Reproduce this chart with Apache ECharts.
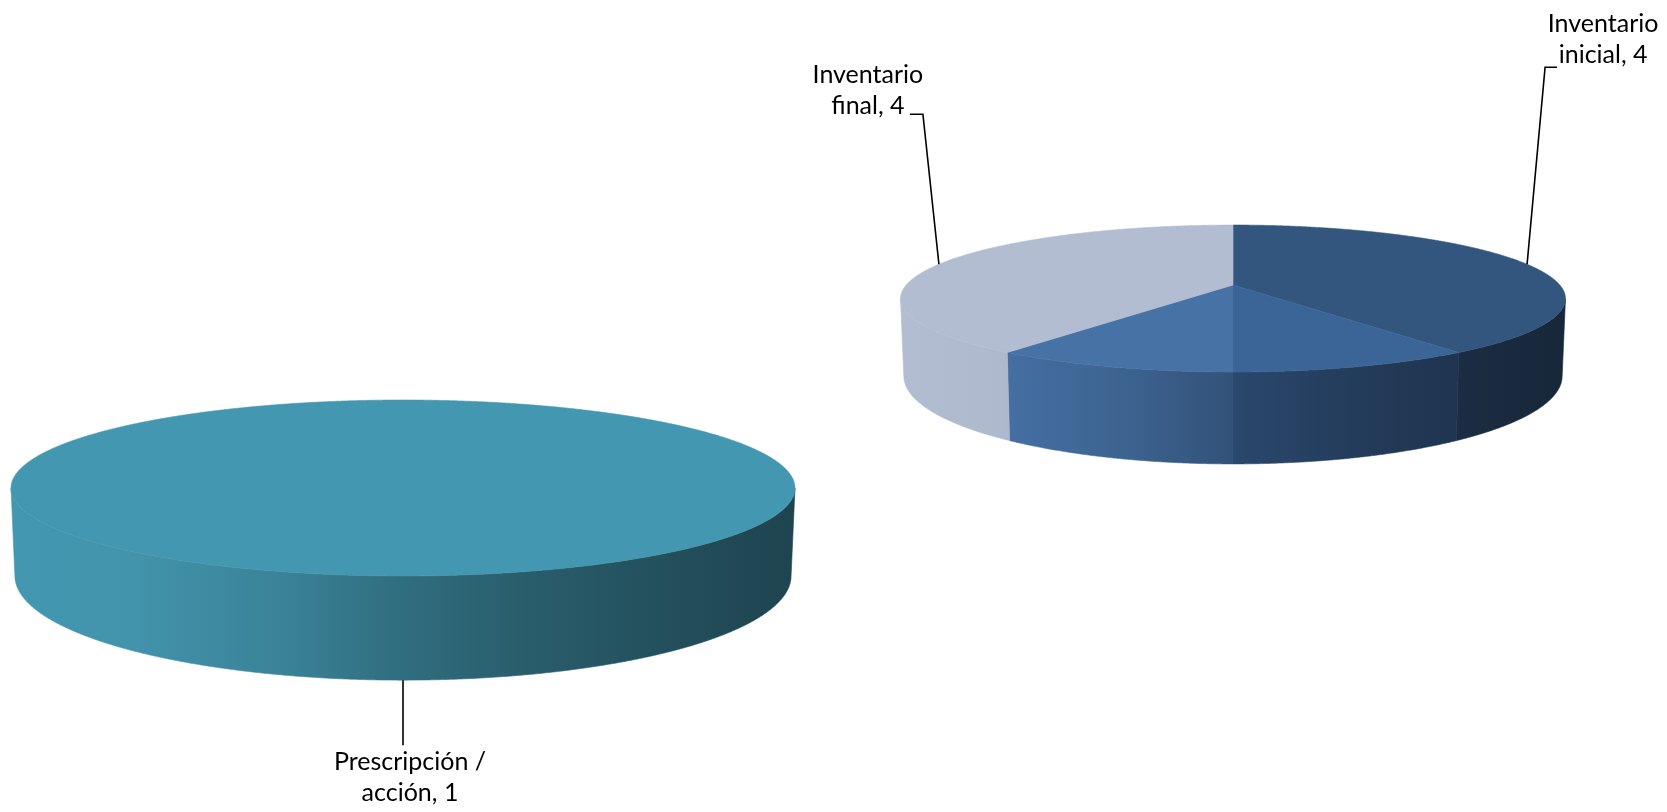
<!DOCTYPE html>
<html>
<head>
<meta charset="utf-8">
<script src="https://cdn.jsdelivr.net/npm/echarts@6/dist/echarts.min.js"></script>
<style>
html,body{margin:0;padding:0;background:#ffffff;}
#chart{width:1667px;height:812px;}
</style>
</head>
<body>
<div id="chart"></div>
<script>
// ---------------- DATA ----------------
const inventoryCategories = ['Inventario inicial', 'Otros', 'Inventario final'];
const inventoryValues = [4, 2, 4];
const prescriptionCategories = ['Prescripción / acción'];
const prescriptionValues = [1];
const inventoryLabelShown = [true, false, true];
const prescriptionLabelShown = [true];

// ---------------- STYLE / LAYOUT ----------------
const FONT = 'Lato';
const FONT_SIZE = 25;
const LINE_H = 31;

const pies = [
  {
    cats: inventoryCategories, vals: inventoryValues, shown: inventoryLabelShown,
    proj: {cx: 1233, cy: 285, rx: 326.8, a: 71, d: 75, k: 0.184},
    colors: [['#33567F', '#33567F'], ['#4672A6', '#3B6497'], ['#B3BDD1', '#B3BDD1']],
    labels: [
      {text: [76, -225], elbow: [18, -197], arm: 12, wrap: 12},
      null,
      {text: [-71, -174], elbow: [-16, -150], arm: -13, wrap: 12}
    ]
  },
  {
    cats: prescriptionCategories, vals: prescriptionValues, shown: prescriptionLabelShown,
    proj: {cx: 403, cy: 471.8, rx: 385.3, a: 85, d: 85, k: 0.184},
    colors: [['#4397B0', '#4397B0']],
    labels: [
      {text: [7, 97], elbow: [0, 65], arm: 0, wrap: 15}
    ]
  }
];

const sideF = [[0, 1], [0.15, 0.98], [0.35, 0.86], [0.5, 0.72], [0.65, 0.62], [0.8, 0.54], [1, 0.45]];

function shade(hex, f) {
  const n = parseInt(hex.slice(1), 16);
  const r = (n >> 16) & 255, g = (n >> 8) & 255, b = n & 255;
  return 'rgb(' + Math.round(r * f) + ',' + Math.round(g * f) + ',' + Math.round(b * f) + ')';
}

function wrapText(text, maxChars) {
  const words = text.split(' ');
  const lines = [];
  let cur = '';
  words.forEach(function (w) {
    if (!cur) cur = w;
    else if ((cur + ' ' + w).length <= maxChars) cur += ' ' + w;
    else { lines.push(cur); cur = w; }
  });
  if (cur) lines.push(cur);
  return lines.join('\n');
}

function sideGradient(P, L, R) {
  const half = P.rx * 1.0174;
  const stops = [];
  sideF.forEach(function (s) {
    if (s[0] < 0.5) stops.push({offset: s[0], color: shade(L, s[1])});
    else if (s[0] === 0.5) {
      stops.push({offset: 0.5, color: shade(L, s[1])});
      stops.push({offset: 0.5, color: shade(R, s[1])});
    } else stops.push({offset: s[0], color: shade(R, s[1])});
  });
  return {type: 'linear', x: P.cx - half, y: 0, x2: P.cx + half, y2: 0, global: true, colorStops: stops};
}

function topGradient(P, L, R) {
  const half = P.rx * 1.0174;
  return {type: 'linear', x: P.cx - half, y: 0, x2: P.cx + half, y2: 0, global: true,
    colorStops: [{offset: 0, color: L}, {offset: 0.5, color: L}, {offset: 0.5, color: R}, {offset: 1, color: R}]};
}

function buildSlices(vals) {
  const out = [];
  let acc = 0;
  vals.forEach(function (v, i) { out.push([acc, acc + v, i]); acc += v; });
  return out;
}

function makeRender(pie) {
  const total = pie.vals.reduce(function (s, v) { return s + v; }, 0);
  const P = pie.proj;
  return function (params, api) {
    const idx = params.dataIndex;
    const cs = params.coordSys;
    const start = api.value(0), end = api.value(1);
    function unit(v) {
      const p = api.coord([1, v]);
      return [(p[0] - cs.cx) / cs.r, (p[1] - cs.cy) / cs.r];
    }
    function proj(u, w, bottom) {
      const s = 1 / (1 - P.k * w);
      const sx = bottom ? 0.99 : 1;
      return [P.cx + P.rx * u * s * sx, P.cy + (P.a * w + (bottom ? P.d : 0)) * s];
    }
    const n = Math.max(8, Math.ceil((end - start) / total * 1440));
    const units = [];
    for (let i = 0; i <= n; i++) units.push(unit(start + (end - start) * i / n));
    const L = pie.colors[idx][0], R = pie.colors[idx][1];
    const children = [];

    // side walls (front-facing runs)
    const sideFill = sideGradient(P, L, R);
    let run = [];
    const runs = [];
    units.forEach(function (uw) {
      if (uw[1] >= P.k) run.push(uw);
      else { if (run.length > 1) runs.push(run); run = []; }
    });
    if (run.length > 1) runs.push(run);
    runs.forEach(function (r) {
      const pts = r.map(function (uw) { return proj(uw[0], uw[1], false); });
      for (let i = r.length - 1; i >= 0; i--) pts.push(proj(r[i][0], r[i][1], true));
      children.push({type: 'polygon', z2: 1, shape: {points: pts},
        style: {fill: sideFill, stroke: sideFill, lineWidth: 0.6}});
    });

    // top face
    const topFill = topGradient(P, L, R);
    const topPts = [proj(0, 0, false)];
    units.forEach(function (uw) { topPts.push(proj(uw[0], uw[1], false)); });
    children.push({type: 'polygon', z2: 2, shape: {points: topPts},
      style: {fill: topFill, stroke: topFill, lineWidth: 0.6}});

    // label + leader line
    const lab = pie.labels[idx];
    if (lab && pie.shown[idx]) {
      const mu = unit((start + end) / 2);
      const front = mu[1] > P.k;
      const A = proj(mu[0], mu[1], front);
      const E = [A[0] + lab.elbow[0], A[1] + lab.elbow[1]];
      const pts = [A, E];
      if (lab.arm) pts.push([E[0] + lab.arm, E[1]]);
      children.push({type: 'polyline', z2: 3, shape: {points: pts},
        style: {stroke: '#000000', lineWidth: 1.6, fill: null}});
      children.push({type: 'text', z2: 4, x: A[0] + lab.text[0], y: A[1] + lab.text[1],
        style: {text: wrapText(pie.cats[idx] + ', ' + pie.vals[idx], lab.wrap), fontFamily: FONT, fontSize: FONT_SIZE,
          fill: '#000000', align: 'center', verticalAlign: 'middle', lineHeight: LINE_H}});
    }
    return {type: 'group', children: children};
  };
}

const chart = echarts.init(document.getElementById('chart'), null, {renderer: 'canvas'});
chart.setOption({
  animation: false,
  backgroundColor: '#ffffff',
  polar: [
    {center: [1233, 285], radius: 100},
    {center: [403, 472], radius: 100}
  ],
  angleAxis: pies.map(function (p, i) {
    return {polarIndex: i, type: 'value', min: 0, max: p.vals.reduce(function (s, v) { return s + v; }, 0),
      startAngle: 90, clockwise: true, show: false};
  }),
  radiusAxis: pies.map(function (p, i) {
    return {polarIndex: i, type: 'value', min: 0, max: 1, show: false};
  }),
  series: pies.map(function (p, i) {
    return {type: 'custom', coordinateSystem: 'polar', polarIndex: i, silent: true,
      data: buildSlices(p.vals), renderItem: makeRender(p)};
  })
});
</script>
</body>
</html>
